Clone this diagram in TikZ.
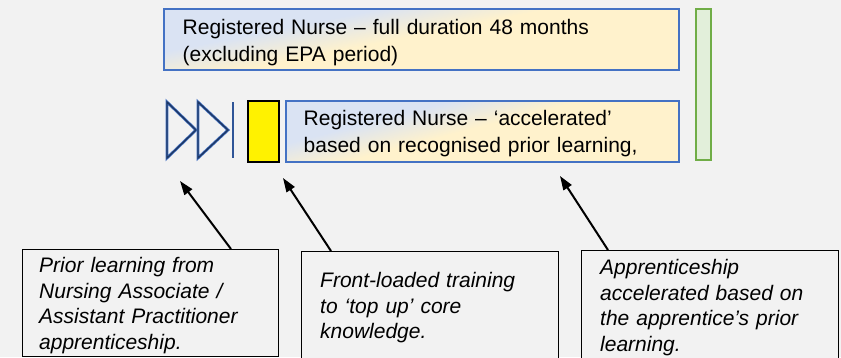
\documentclass[tikz,border=0pt]{standalone}
\usepackage{fontspec}
\setmainfont{Liberation Sans}
\usetikzlibrary{arrows.meta}
\definecolor{bgc}{HTML}{F2F2F2}
\definecolor{bordblue}{HTML}{4472C4}
\definecolor{gfill}{HTML}{E2EFDA}
\definecolor{gborder}{HTML}{70AD47}
\definecolor{navy}{HTML}{1F3864}
\definecolor{midblue}{HTML}{2F5597}
% diagonal blue -> cream gradient, normalised to the box
\pgfdeclarefunctionalshading{rngrad}{\pgfpoint{0bp}{0bp}}{\pgfpoint{100bp}{100bp}}{}{
  75 exch sub 50 div 0.6 mul
  exch 25 sub 50 div add
  0.42 sub 0.33 div
  dup 0 lt {pop 0} if
  dup 1 gt {pop 1} if
  dup 0.145 mul 0.855 add exch
  dup 0.059 mul 0.890 add exch
  -0.153 mul 0.953 add
}
\tikzset{
  rnbox/.style={draw=bordblue, line width=1.5pt, shade, shading=rngrad, anchor=north west, inner sep=0pt},
  greenbar/.style={draw=gborder, fill=gfill, line width=1.5pt, anchor=north west, inner sep=0pt},
  yelbox/.style={draw=black, fill=yellow, line width=1.5pt, anchor=north west, inner sep=0pt},
  callout/.style={draw=black, line width=1.3pt, fill=bgc, anchor=north west, inner sep=0pt},
  rntext/.style={anchor=base west, inner sep=0pt, text width=480pt, align=left, font=\fontsize{21}{26.5}\selectfont},
  cotext/.style={anchor=base west, inner sep=0pt, text width=240pt, align=left, font=\fontsize{21}{25.7}\selectfont\itshape},
  pointer/.style={draw=black, line width=2pt, -{Triangle[length=14pt,width=9.5pt]}},
  tri/.style={line width=1.4pt, line join=miter},
}
\begin{document}
\begin{tikzpicture}[x=1pt,y=-1pt]
\useasboundingbox (0,0) rectangle (841,357);
\fill[bgc] (0,0) rectangle (841,357);

% top bars
\node[rnbox, minimum width=515pt, minimum height=61pt] (full) at (163,8) {};
\node[rntext] (fulltxt) at (182.5,34.5) {Registered Nurse – full duration 48 months\\(excluding EPA period)};
\node[greenbar, minimum width=15pt, minimum height=151pt] (epa) at (695,8) {};

% accelerated row
\draw[tri, draw=bordblue, line width=2.8pt] (167,102) -- (196,130) -- (167,158) -- cycle;
\draw[tri, draw=navy] (167,102) -- (196,130) -- (167,158) -- cycle;
\draw[tri, draw=bordblue, line width=2.8pt] (198,102) -- (228,130) -- (198,158) -- cycle;
\draw[tri, draw=navy] (198,102) -- (228,130) -- (198,158) -- cycle;
\draw[draw=midblue, line width=2pt] (233,102) -- (233,158);
\node[yelbox, minimum width=31pt, minimum height=61pt] (topup) at (247,100) {};
\node[rnbox, minimum width=393pt, minimum height=61pt] (accel) at (285,100) {};
\node[rntext] (acceltxt) at (303.5,125.5) {Registered Nurse – ‘accelerated’\\based on recognised prior learning,};

% callouts
\node[callout, minimum width=256pt, minimum height=107pt] (c1) at (22,249) {};
\node[cotext] (c1txt) at (39,272.5) {Prior learning from\\Nursing Associate /\\Assistant Practitioner\\apprenticeship.};
\node[callout, minimum width=257pt, minimum height=112pt] (c2) at (301,251) {};
\node[cotext] (c2txt) at (320,287.5) {Front-loaded training\\to ‘top up’ core\\knowledge.};
\node[callout, minimum width=257pt, minimum height=112pt] (c3) at (581,250) {};
\node[cotext] (c3txt) at (600,274.5) {Apprenticeship\\accelerated based on\\the apprentice’s prior\\learning.};

% arrows
\coordinate (s1) at (231,249);
\coordinate (t1) at (180,181);
\coordinate (s2) at (331,251);
\coordinate (t2) at (283,178);
\coordinate (s3) at (608,250);
\coordinate (t3) at (560,176);
\draw[pointer] (s1) -- (t1);
\draw[pointer] (s2) -- (t2);
\draw[pointer] (s3) -- (t3);
\end{tikzpicture}
\end{document}
